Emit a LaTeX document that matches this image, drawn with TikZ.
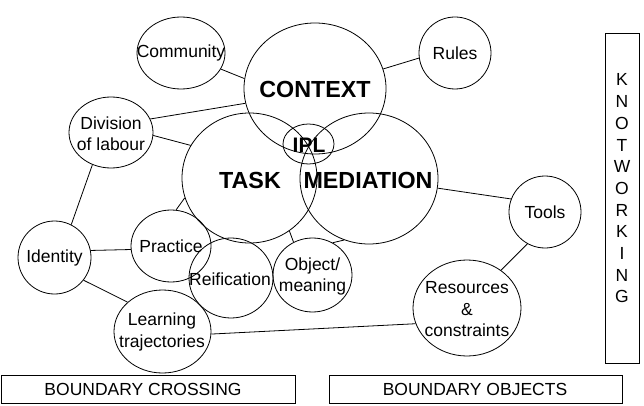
\documentclass[tikz,border=0pt]{standalone}
\usepackage{fontspec}
\setmainfont{Liberation Sans}
\usetikzlibrary{shapes.geometric}
\tikzset{
  circ/.style={draw, ellipse, inner sep=0pt, line width=0.8pt},
  lab/.style={inner sep=0pt, align=center, font=\fontsize{17.5}{21.5}\selectfont},
  big/.style={inner sep=0pt, align=center, font=\fontsize{23.3}{26}\selectfont\bfseries},
  frame/.style={draw, rectangle, inner sep=0pt, line width=0.8pt},
  conn/.style={line width=0.8pt}
}
\begin{document}
\begin{tikzpicture}[x=1pt,y=-1pt]
\useasboundingbox (0,0) rectangle (644,406);
% ellipses
\node[circ, minimum width=88, minimum height=72] (com) at (181,53) {};
\node[circ, minimum width=142, minimum height=131] (ctx) at (315,88.5) {};
\node[circ, minimum width=72, minimum height=72] (rul) at (455,53) {};
\node[circ, minimum width=84, minimum height=71] (div) at (111,132.5) {};
\node[circ, minimum width=135, minimum height=130] (task) at (249.5,178) {};
\node[circ, minimum width=138, minimum height=131] (med) at (369,178.5) {};
\node[circ, minimum width=51, minimum height=40] (ipl) at (308.5,144) {};
\node[circ, minimum width=72, minimum height=72] (tool) at (545,212) {};
\node[circ, minimum width=73, minimum height=73] (idn) at (54.5,257.5) {};
\node[circ, minimum width=80, minimum height=72] (prac) at (171,246) {};
\node[circ, minimum width=84, minimum height=80] (reif) at (231,278) {};
\node[circ, minimum width=79, minimum height=74] (obj) at (312.5,275) {};
\node[circ, minimum width=97, minimum height=83] (lrn) at (162.5,331.5) {};
\node[circ, minimum width=108, minimum height=96] (res) at (467,308) {};
% texts
\node[lab] (comt) at (181,53) {Community};
\node[big] (ctxt) at (315,89) {CONTEXT};
\node[lab] (rult) at (455,53) {Rules};
\node[lab] (divt) at (111,133.5) {Division\\of labour};
\node[big] (taskt) at (250,180) {TASK};
\node[big] (medt) at (368,180) {MEDIATION};
\node[big, font=\fontsize{21}{24}\selectfont\bfseries] (iplt) at (309,145) {IPL};
\node[lab] (toolt) at (545,212) {Tools};
\node[lab] (idnt) at (54.5,258) {Identity};
\node[lab] (pract) at (171,246) {Practice};
\node[lab] (reift) at (230,279) {Reification};
\node[lab] (objt) at (312.5,276.5) {Object/\\meaning};
\node[lab] (lrnt) at (162,332) {Learning\\trajectories};
\node[lab] (rest) at (467,309.5) {Resources\\\&\\constraints};
% frames
\node[frame, minimum width=34, minimum height=330] (kw) at (622,198) {};
\node[inner sep=0pt, align=center, font=\fontsize{17.5}{21.7}\selectfont] (kwt) at (622,188.5) {K\\N\\O\\T\\W\\O\\R\\K\\I\\N\\G};
\node[frame, minimum width=294, minimum height=28] (bc) at (148,389) {};
\node[lab] (bct) at (143,389) {BOUNDARY CROSSING};
\node[frame, minimum width=293, minimum height=28] (bo) at (475.5,389) {};
\node[lab] (bot) at (475,389) {BOUNDARY OBJECTS};
% connectors
\draw[conn] (com.-22.5) -- (ctx.172.7);
\draw[conn] (rul.188) -- (ctx.16.7);
\draw[conn] (div.19.9) -- (ctx.192);
\draw[conn] (div.-4.8) -- (task.151.2);
\draw[conn] (div.-120.8) -- (idn.63.8);
\draw[conn] (idn.11.3) -- (prac.185.7);
\draw[conn] (idn.-38) -- (lrn.140.1);
\draw[conn] (prac.82) -- (task.197);
\draw[conn] (obj.120) -- (task.-53.6);
\draw[conn] (obj.58.6) -- (med.-112);
\draw[conn] (med.-8.2) -- (tool.159.6);
\draw[conn] (tool.-119.2) -- (res.48.3);
\draw[conn] (lrn.-3) -- (res.197.7);
\end{tikzpicture}
\end{document}
